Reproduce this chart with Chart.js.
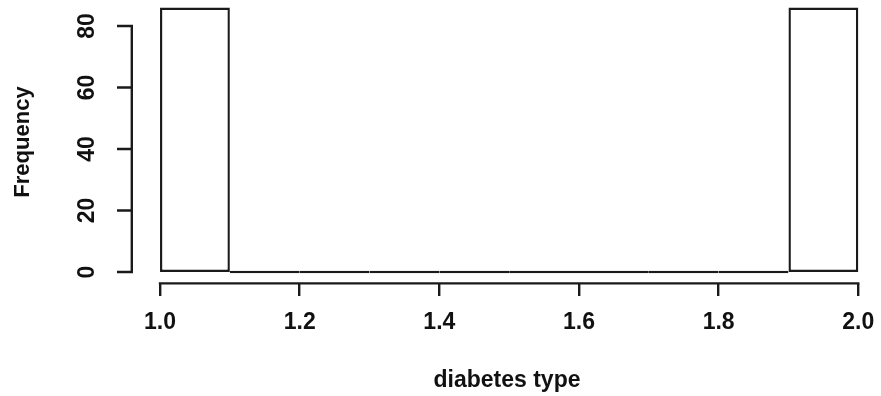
<!DOCTYPE html>
<html>
<head>
<meta charset="utf-8">
<script src="https://cdn.jsdelivr.net/npm/chart.js@4/dist/chart.umd.min.js"></script>
<style>
  html, body { margin: 0; padding: 0; background: #ffffff; }
  #wrap { width: 881px; height: 396px; position: relative; }
</style>
</head>
<body>
<div id="wrap"><canvas id="c" width="881" height="396"></canvas></div>
<script>
// Histogram bins (centres), counts and tick labels
const binCentres = [1.05, 1.15, 1.25, 1.35, 1.45, 1.55, 1.65, 1.75, 1.85, 1.95];
const binCounts  = [86, 0, 0, 0, 0, 0, 0, 0, 0, 86];
const xTicks = [1.0, 1.2, 1.4, 1.6, 1.8, 2.0];
const yTicks = [0, 20, 40, 60, 80];
const xTitle = 'diabetes type';
const yTitle = 'Frequency';

const INK = '#1a1a1a';
const FONT = "'Liberation Sans', Arial, Helvetica, sans-serif";
const LW = 2.4;
const Y_TICK_LEN = 16;

// R-style axes: lines spanning only from first to last tick, y tick marks
const rAxisLines = {
  id: 'rAxisLines',
  afterDraw(chart) {
    const ctx = chart.ctx;
    const xs = chart.scales.x, ys = chart.scales.y;
    ctx.save();
    ctx.strokeStyle = INK;
    ctx.lineWidth = LW;
    ctx.lineCap = 'butt';
    ctx.beginPath();
    const yx = ys.right - LW / 2;
    ctx.moveTo(yx, ys.getPixelForValue(yTicks[0]) + LW / 2);
    ctx.lineTo(yx, ys.getPixelForValue(yTicks[yTicks.length - 1]) - LW / 2);
    yTicks.forEach(v => {
      const py = ys.getPixelForValue(v);
      ctx.moveTo(ys.right - Y_TICK_LEN, py);
      ctx.lineTo(ys.right, py);
    });
    const xy = xs.top - 0.6;
    ctx.moveTo(xs.getPixelForValue(xTicks[0]) - LW / 2, xy);
    ctx.lineTo(xs.getPixelForValue(xTicks[xTicks.length - 1]) + LW / 2, xy);
    ctx.stroke();
    ctx.restore();
  }
};

new Chart(document.getElementById('c'), {
  type: 'bar',
  data: {
    datasets: [{
      data: binCentres.map((x, i) => ({ x: x, y: binCounts[i] })),
      backgroundColor: '#ffffff',
      borderColor: INK,
      borderWidth: LW,
      borderSkipped: false,
      inflateAmount: 0,
      barPercentage: 1.0,
      categoryPercentage: 1.0,
      minBarLength: 2.4
    }]
  },
  plugins: [rAxisLines],
  options: {
    responsive: false,
    animation: false,
    events: [],
    layout: { padding: 0 },
    plugins: {
      legend: { display: false },
      tooltip: { enabled: false },
      title: { display: false }
    },
    scales: {
      x: {
        type: 'linear',
        min: 0.9613,
        max: 2.0325,
        offset: false,
        afterBuildTicks: (s) => { s.ticks = xTicks.map(v => ({ value: v })); },
        afterFit: (s) => { s.height = 112; s.paddingLeft = 0; s.paddingRight = 0; },
        grid: { display: true, offset: false, drawOnChartArea: false, drawTicks: true, tickLength: 12, color: INK, lineWidth: LW },
        border: { display: false },
        ticks: {
          autoSkip: false,
          maxRotation: 0,
          minRotation: 0,
          padding: 13,
          color: '#111',
          font: { family: FONT, size: 23, weight: 'bold' },
          callback: (v) => Number(v).toFixed(1)
        },
        title: {
          display: true,
          text: xTitle,
          color: '#111',
          font: { family: FONT, size: 23, weight: 'bold' },
          padding: { top: 0, bottom: 2 }
        }
      },
      y: {
        type: 'linear',
        min: -3.9024,
        max: 88.455,
        afterBuildTicks: (s) => { s.ticks = yTicks.map(v => ({ value: v })); },
        afterFit: (s) => { s.width = 133; s.paddingTop = 0; s.paddingBottom = 0; },
        grid: { display: false },
        border: { display: false },
        ticks: {
          autoSkip: false,
          minRotation: 90,
          maxRotation: 90,
          crossAlign: 'center',
          padding: 9 + Y_TICK_LEN,
          color: '#111',
          font: { family: FONT, size: 23, weight: 'bold' },
          callback: (v) => String(v)
        },
        title: {
          display: true,
          text: yTitle,
          color: '#111',
          font: { family: FONT, size: 22, weight: 'bold' },
          padding: { top: 10, bottom: 0 }
        }
      }
    }
  }
});
</script>
</body>
</html>
